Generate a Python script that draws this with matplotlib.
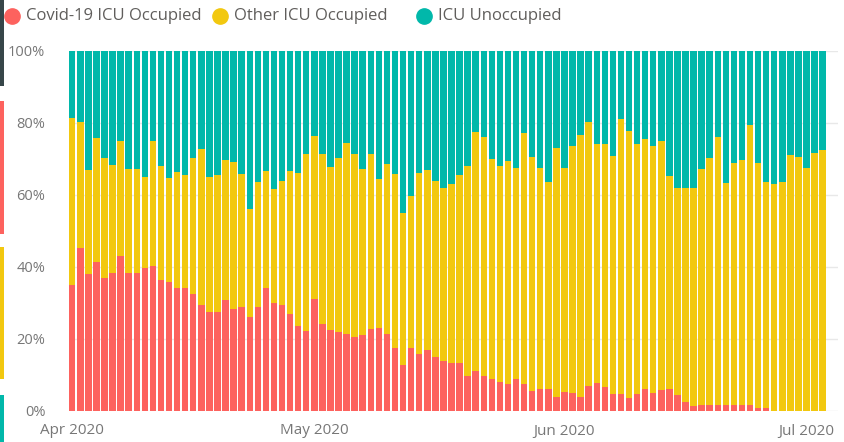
import numpy as np
import pandas as pd
import matplotlib
matplotlib.use("Agg")
import matplotlib.pyplot as plt
import matplotlib.dates as mdates
from matplotlib.lines import Line2D
from matplotlib.patches import Rectangle
from matplotlib.ticker import PercentFormatter

plt.rcParams["font.family"] = ["Open Sans", "DejaVu Sans"]

# daily ICU bed shares, 1 Apr - 3 Jul 2020 (percent of all ICU beds)
dates = pd.date_range("2020-04-01", "2020-07-03", freq="D")

covid_pct = [
    35.0, 45.2, 38.0, 41.5, 36.9, 38.2, 43.0, 38.2, 38.2, 39.8,
    40.4, 36.3, 35.9, 34.1, 34.1, 32.6, 29.4, 27.4, 27.4, 30.8,
    28.3, 28.8, 26.2, 28.8, 34.1, 30.1, 29.4, 26.9, 23.6, 22.3,
    31.0, 24.1, 22.5, 21.9, 21.3, 20.6, 21.1, 22.7, 23.1, 21.4,
    17.4, 12.8, 17.6, 15.9, 16.9, 15.0, 13.9, 13.4, 13.4, 9.7,
    11.1, 9.7, 8.8, 8.1, 7.6, 8.8, 7.4, 5.6, 6.0, 6.0,
    4.0, 5.4, 4.9, 4.0, 7.0, 7.7, 6.6, 4.6, 4.7, 3.5,
    4.6, 6.0, 5.1, 5.7, 6.0, 4.4, 2.4, 1.5, 1.7, 1.7,
    1.7, 1.7, 1.8, 1.8, 1.8, 0.8, 0.8, 0.0, 0.0, 0.0,
    0.0, 0.0, 0.0, 0.0,
]

# covid + other occupied beds
occupied_pct = [
    81.5, 80.4, 66.9, 75.9, 70.2, 68.3, 75.0, 67.1, 67.1, 65.1,
    75.0, 68.1, 64.6, 66.5, 65.6, 70.2, 72.8, 65.1, 65.6, 69.7,
    69.1, 65.7, 56.1, 63.7, 66.7, 61.6, 63.9, 66.7, 66.2, 71.3,
    76.5, 71.3, 67.9, 70.4, 74.4, 71.3, 67.2, 71.3, 64.4, 68.6,
    65.9, 55.1, 59.7, 66.0, 66.9, 63.9, 61.9, 63.1, 65.6, 68.1,
    77.4, 76.2, 70.0, 68.1, 69.4, 67.6, 77.3, 70.6, 67.6, 63.5,
    73.1, 67.6, 73.7, 76.7, 80.4, 74.3, 74.3, 70.9, 81.1, 77.8,
    74.3, 75.5, 73.6, 75.0, 65.3, 62.0, 62.0, 61.9, 67.2, 70.2,
    76.1, 63.2, 68.8, 69.7, 79.4, 68.8, 63.5, 63.0, 63.5, 71.1,
    70.6, 67.6, 71.6, 72.4,
]

series_names = ["Covid-19 ICU Occupied", "Other ICU Occupied", "ICU Unoccupied"]
colors = ["#FD625E", "#F2C80F", "#01B8AA"]

covid = np.array(covid_pct)
other = np.array(occupied_pct) - covid
unoccupied = 100 - np.array(occupied_pct)

fig = plt.figure(figsize=(8.44, 4.42), dpi=100)
ax = fig.add_axes([69 / 844, 1 - 411 / 442, (838 - 69) / 844, 360 / 442])

x = mdates.date2num(dates)
ax.bar(x, covid, width=0.8, color=colors[0], linewidth=0)
ax.bar(x, other, width=0.8, bottom=covid, color=colors[1], linewidth=0)
ax.bar(x, unoccupied, width=0.8, bottom=covid + other, color=colors[2], linewidth=0)

ax.set_xlim(x[0] - 0.4, x[0] + 94.9)
ax.set_ylim(0, 100)
ax.set_yticks([0, 20, 40, 60, 80, 100])
ax.yaxis.set_major_formatter(PercentFormatter(decimals=0))
ax.xaxis.set_major_locator(mdates.MonthLocator())
ax.xaxis.set_major_formatter(mdates.DateFormatter("%b %Y"))
ax.tick_params(axis="y", length=0, pad=17, labelsize=10.5, labelcolor="#777777")
ax.tick_params(axis="x", length=0, pad=9, labelsize=11, labelcolor="#777777")
ax.grid(axis="y", color="#E8E8E8", linewidth=1)
ax.set_axisbelow(True)
for side in ax.spines.values():
    side.set_visible(False)

# legend along the top
legend_x = [12, 220, 424]
for xpos, name, col in zip(legend_x, series_names, colors):
    fig.add_artist(Line2D([xpos / 844], [1 - 16 / 442], marker="o", markersize=11,
                          color=col, linestyle="none", transform=fig.transFigure))
    fig.text((xpos + 14) / 844, 1 - 16 / 442, name, fontsize=12, color="#605E5C",
             va="center", ha="left")

# coloured strips at the left edge
strips = [(0, 86, "#374649"), (101, 234, "#FD625E"), (247, 379, "#F2C80F"), (395, 442, "#01B8AA")]
for top, bottom, col in strips:
    fig.patches.append(Rectangle((0, 1 - bottom / 442), 3.5 / 844, (bottom - top) / 442,
                                 transform=fig.transFigure, color=col, linewidth=0))

fig.savefig("out.png", dpi=100)
